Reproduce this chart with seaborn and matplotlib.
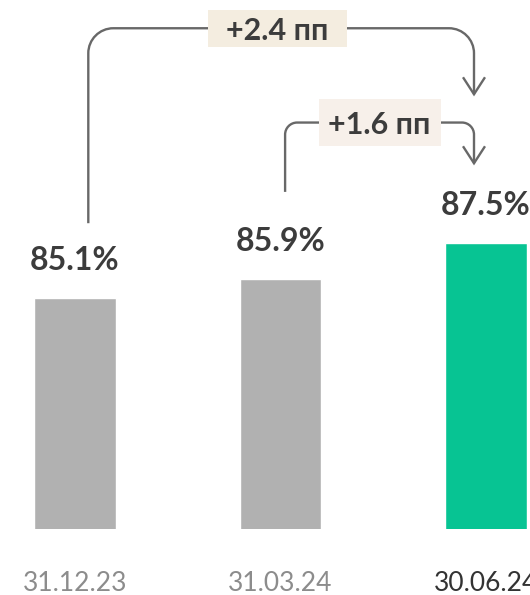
import matplotlib
matplotlib.use("Agg")
import matplotlib.pyplot as plt
import seaborn as sns
import pandas as pd
from matplotlib.path import Path
from matplotlib.patches import PathPatch, Rectangle
from matplotlib.transforms import IdentityTransform

# ---- data ----
dates = ["31.12.23", "31.03.24", "30.06.24"]
values = [85.1, 85.9, 87.5]
delta_labels = ["+2.4 пп", "+1.6 пп"]
bar_colors = ["#b1b1b1", "#b1b1b1", "#07c493"]
tick_colors = ["#8c8c8c", "#8c8c8c", "#333333"]

sns.set_theme(style="white")
plt.rcParams['font.family'] = ['Lato', 'DejaVu Sans']

W, H = 530, 595
fig = plt.figure(figsize=(W / 100, H / 100), dpi=100)
fig.patch.set_facecolor("white")
ax = fig.add_axes([-28 / W, 66 / H, 616.8 / W, 529 / H])

df = pd.DataFrame({"date": dates, "value": values})
sns.barplot(data=df, x="date", y="value", hue="date", palette=bar_colors,
            width=0.396, legend=False, ax=ax, saturation=1)
ax.set_xlim(-0.5, 2.5)
ax.set_ylim(75, 75 + 529 / 22.9)
sns.despine(ax=ax, left=True, bottom=True)
ax.set_yticks([])
ax.set_xlabel("")
ax.set_ylabel("")
ax.set_facecolor("white")
ax.tick_params(axis="x", length=0, pad=30)
ax.set_xticks(range(len(dates)))
ax.set_xticklabels(dates, fontsize=19, fontweight="normal")
for lbl, c in zip(ax.get_xticklabels(), tick_colors):
    lbl.set_color(c)

# value labels
for i, v in enumerate(values):
    ax.annotate(f"{v}%", xy=(i, v), xytext=(0, 20.2), textcoords="offset points",
                ha="center", va="baseline", fontsize=23, fontweight="bold",
                color="#3c3c3c")

# ---- connectors ----
line_color = "#686868"
ident = IdentityTransform()


def bar_top(i):
    return ax.transData.transform((i, values[i]))


def rounded(points, r):
    verts = [points[0]]
    codes = [Path.MOVETO]
    k = 0.5523
    for j in range(1, len(points) - 1):
        p0, p1, p2 = points[j - 1], points[j], points[j + 1]
        d1 = ((p1[0] - p0[0]), (p1[1] - p0[1]))
        n1 = (d1[0] ** 2 + d1[1] ** 2) ** 0.5
        d1 = (d1[0] / n1, d1[1] / n1)
        d2 = ((p2[0] - p1[0]), (p2[1] - p1[1]))
        n2 = (d2[0] ** 2 + d2[1] ** 2) ** 0.5
        d2 = (d2[0] / n2, d2[1] / n2)
        a = (p1[0] - d1[0] * r, p1[1] - d1[1] * r)
        b = (p1[0] + d2[0] * r, p1[1] + d2[1] * r)
        verts += [a,
                  (a[0] + d1[0] * r * k, a[1] + d1[1] * r * k),
                  (b[0] - d2[0] * r * k, b[1] - d2[1] * r * k),
                  b]
        codes += [Path.LINETO, Path.CURVE4, Path.CURVE4, Path.CURVE4]
    verts.append(points[-1])
    codes.append(Path.LINETO)
    return Path(verts, codes)


def connector(src, dst, src_dx, src_dy, dst_dx, dst_dy, top_dy, r, label,
              box_w, box_h, box_dx, box_color):
    sx, sy = bar_top(src)
    tx, ty = bar_top(dst)
    start = (sx + src_dx, sy + src_dy)
    tip = (tx + dst_dx, ty + dst_dy)
    top = tip[1] + top_dy
    pts = [start, (start[0], top), (tip[0], top), tip]
    fig.add_artist(PathPatch(rounded(pts, r), fill=False, edgecolor=line_color,
                             lw=1.7, transform=ident, capstyle="butt",
                             joinstyle="round"))
    head = Path([(tip[0] - 11, tip[1] + 17), tip, (tip[0] + 11, tip[1] + 17)])
    fig.add_artist(PathPatch(head, fill=False, edgecolor=line_color, lw=1.7,
                             transform=ident, joinstyle="miter",
                             capstyle="butt"))
    cx = (start[0] + tip[0]) / 2 + box_dx
    fig.add_artist(Rectangle((cx - box_w / 2, top - box_h / 2), box_w, box_h,
                             facecolor=box_color, edgecolor="none",
                             transform=ident, zorder=3))
    fig.text(cx, top, label, transform=ident, ha="center", va="center_baseline",
             fontsize=22, fontweight="bold", color="#3c3c3c", zorder=4)


connector(0, 2, 13.5, 74.5, -12, 148.5, 66, 25, delta_labels[0],
          139, 37, -3.5, "#f4ede0")
connector(1, 2, 4.7, 87.5, -12, 79.5, 40.7, 12, delta_labels[1],
          122, 47, 0, "#f7f0ea")

fig.savefig("out.png", dpi=100)
